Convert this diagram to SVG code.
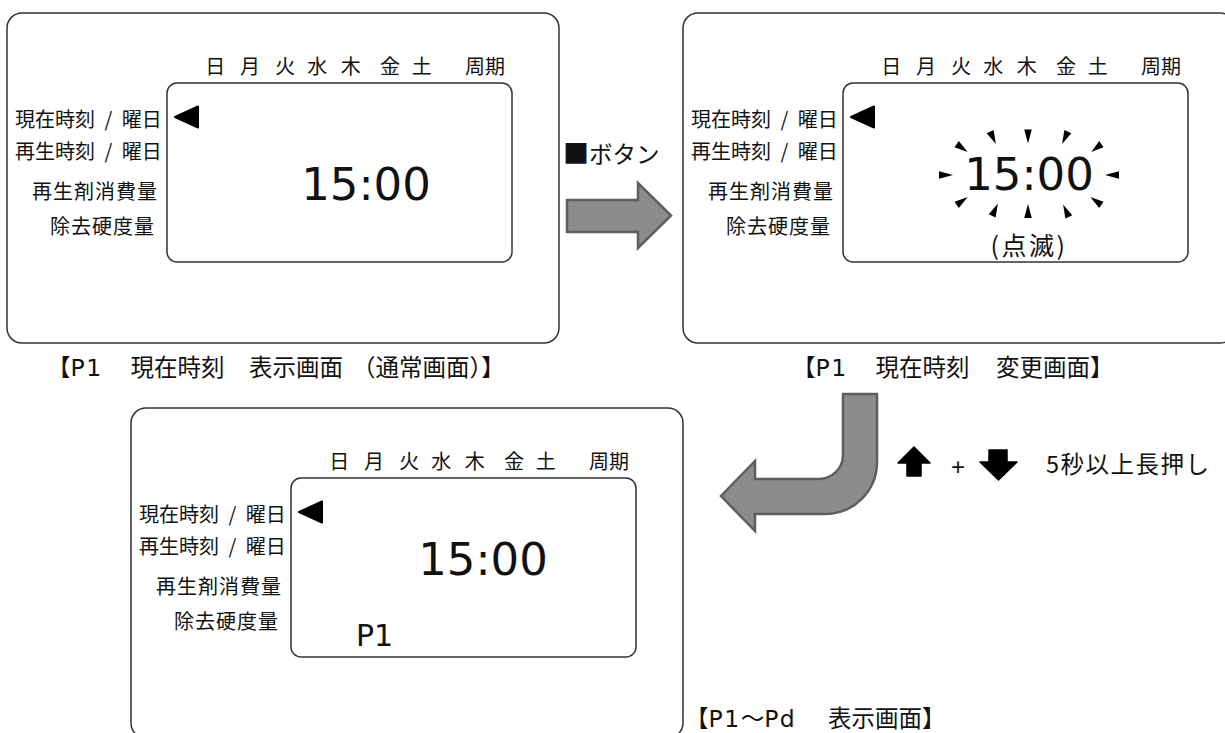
<svg xmlns="http://www.w3.org/2000/svg" width="1225" height="733" viewBox="0 0 1225 733">
<style>
.frame{fill:#fff;stroke:#333;stroke-width:1.5}
.scr{fill:#fff;stroke:#333;stroke-width:1.5}
text{font-family:"Noto Sans CJK JP","Noto Sans",sans-serif;fill:#111}
.day{font-size:20px;text-anchor:middle}
.lbl{font-size:20px;word-spacing:5px}
.lbl2{font-size:20px;letter-spacing:1px}
.big{font-family:"DejaVu Sans",sans-serif;font-size:45px;text-anchor:middle}
.cap{font-size:23.5px}
.lat{font-family:"DejaVu Sans",sans-serif;letter-spacing:1.5px}
.tri{fill:#000;stroke:#000;stroke-width:2;stroke-linejoin:round}
.tick{fill:#000}
.blk{fill:#8c8c8c;stroke:#5e5e5e;stroke-width:2.5}
.ico{fill:#000;stroke:#000;stroke-width:1.5;stroke-linejoin:round}
</style>
<defs>
<g id="base">
<rect class="frame" x="7" y="13" width="552" height="330" rx="15"/>
<rect class="scr" x="167" y="83" width="345" height="179" rx="10"/>
<text class="day" x="215.3" y="74">日</text>
<text class="day" x="250" y="74">月</text>
<text class="day" x="285.3" y="74">火</text>
<text class="day" x="317.3" y="74">水</text>
<text class="day" x="350.7" y="74">木</text>
<text class="day" x="390" y="74">金</text>
<text class="day" x="421.7" y="74">土</text>
<text class="day" x="485" y="74">周期</text>
<text class="lbl" x="15" y="127">現在時刻 / 曜日</text>
<text class="lbl" x="15" y="159">再生時刻 / 曜日</text>
<text class="lbl2" x="32" y="199">再生剤消費量</text>
<text class="lbl2" x="50" y="234">除去硬度量</text>
<polygon class="tri" points="175,117 198,106.5 198,127.5"/>
</g>
</defs>

<g id="panel1">
<use href="#base"/>
<text class="big" x="366" y="200">15:00</text>
<text class="cap" y="376"><tspan x="47">【</tspan><tspan class="lat">P1 </tspan><tspan x="130.5">現在時刻 </tspan><tspan x="249">表示画面</tspan><tspan x="352">（通常画面）】</tspan></text>
</g>

<g id="panel2">
<use href="#base" transform="translate(676,0)"/>
<text class="big" x="1029" y="190">15:00</text>
<g class="tick">
<polygon points="953,175 939,171.2 939,178.8"/>
<polygon points="1105,175 1119,171.2 1119,178.8"/>
<polygon points="1028,143.5 1024.2,129.5 1031.8,129.5"/>
<polygon points="1028,204 1024.2,218 1031.8,218"/>
<polygon points="995.9,143.9 986.7,133.3 993.6,130.1"/>
<polygon points="967.7,152 954.5,147.3 958.8,141.1"/>
<polygon points="1062.1,143.9 1064.4,130.1 1071.3,133.3"/>
<polygon points="1091.3,152 1099.2,141.1 1103.5,147.3"/>
<polygon points="967.7,197 958.8,207.9 954.5,201.7"/>
<polygon points="997.9,203.6 995.6,217.5 988.7,214.3"/>
<polygon points="1090.3,197 1103.5,201.7 1099.2,207.9"/>
<polygon points="1063.1,204.6 1072.3,215.2 1065.4,218.4"/>
</g>
<text x="1029" y="255" style="font-size:25px;text-anchor:middle;letter-spacing:2.5px">(点滅)</text>
<text class="cap" y="376"><tspan x="792">【</tspan><tspan class="lat">P1 </tspan><tspan x="875.5">現在時刻 </tspan><tspan x="996">変更画面】</tspan></text>
</g>

<g id="panel3">
<use href="#base" transform="translate(124,395)"/>
<text class="big" x="483" y="575">15:00</text>
<text x="356" y="646" style="font-family:'DejaVu Sans',sans-serif;font-size:30px">P1</text>
<text class="cap" y="727"><tspan x="685">【</tspan><tspan class="lat">P1</tspan>〜<tspan class="lat">Pd </tspan><tspan x="828">表示画面】</tspan></text>
</g>

<g id="connectors">
<g id="step1">
<text x="563" y="163" style="font-size:23.5px"><tspan style="font-size:26px">■</tspan>ボタン</text>
<polygon class="blk" points="567,200 638,200 638,183 671,215.5 638,248 638,232 567,232"/>
</g>
<g id="step2">
<path class="blk" d="M843,394 L877,394 L877,462 A52,52 0 0 1 825,514 L755,514 L755,531 L721,496 L755,461 L755,479 L819,479 A24,24 0 0 0 843,455 Z"/>
<polygon class="ico" points="914,447 930,463 921,463 921,476 907,476 907,463 898,463"/>
<text x="958" y="475" style="font-family:'Liberation Sans',sans-serif;font-size:24px;text-anchor:middle">+</text>
<polygon class="ico" points="989,450 1007,450 1007,462 1017,462 998.5,480 980,462 989,462"/>
<text x="1046" y="473" style="font-size:23.5px" textLength="163" lengthAdjust="spacing">5秒以上長押し</text>
</g>
</g>
</svg>
